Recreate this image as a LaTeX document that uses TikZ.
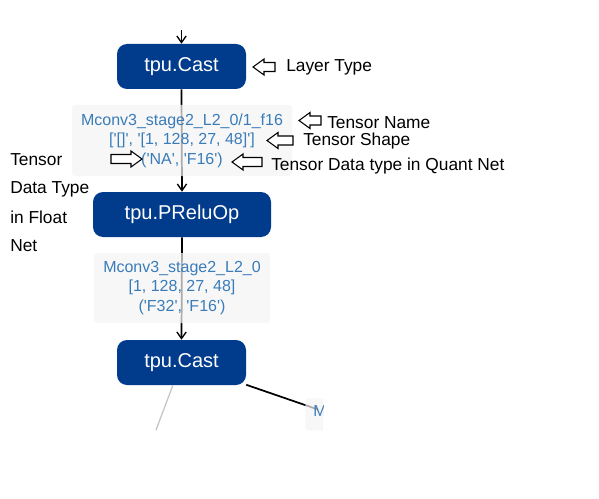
\documentclass[tikz,border=0pt]{standalone}
\usepackage{fontspec}
\setmainfont{Liberation Sans}
\usetikzlibrary{arrows.meta}
\definecolor{boxblue}{RGB}{0,59,140}
\definecolor{lbltext}{RGB}{58,124,184}
\definecolor{lblbg}{RGB}{244,244,245}
\newcommand\qq{\textquotesingle}
\tikzset{
  opbox/.style={fill=boxblue, text=white, rounded corners=7.5pt, minimum height=33.75pt, font=\fontsize{15}{18}\selectfont, inner sep=0pt},
  lbl/.style={fill=lblbg, fill opacity=0.7, text opacity=1, text=lbltext, rounded corners=2pt, align=center, font=\fontsize{12}{14.6}\selectfont, inner sep=0pt},
  conn/.style={draw=black, line width=1.3pt, -{Straight Barb[length=5pt,width=7pt,line width=1pt]}},
  plain/.style={draw=black, line width=1.3pt},
  faint/.style={draw=black!22, line width=1pt},
  note/.style={anchor=west, font=\fontsize{13}{15}\selectfont, inner sep=0pt},
  hollow/.style={draw=black, fill=white, line width=0.8pt, line join=miter},
  pics/harrow/.style={code={\draw[hollow] (0,0) -- (11,-8) -- (11,-4.5) -- (#1,-4.5) -- (#1,4.5) -- (11,4.5) -- (11,8) -- cycle;}}
}
\begin{document}
\begin{tikzpicture}[x=0.75pt, y=-0.75pt]
\useasboundingbox (0,0) rectangle (599,499);
% operator boxes
\node[opbox, minimum width=96.75pt] (b1) at (181.5,66.5) {tpu.Cast};
\node[opbox, minimum width=133.5pt] (b2) at (182,214.5) {tpu.PReluOp};
\node[opbox, minimum width=96.75pt] (b3) at (181.5,362.5) {tpu.Cast};
\coordinate (top) at (181.5,30);
% connectors
\draw[conn] (top) -- (b1.north);
\draw[conn] (b1.south) -- (b2.north);
\draw[conn] (b2.south) -- (b3.north);
\begin{scope}
\clip (0,0) rectangle (323,430);
\coordinate (g) at (156,430);
\coordinate (mend) at (318,409.5);
\draw[faint] (b3) -- (g);
\draw[plain] (b3) -- (mend);
\node[lbl, anchor=north west, minimum width=60pt, minimum height=24pt] (m) at (305,398) {};
\node[lbl, fill=none, anchor=west] (mt) at (313,413) {Mconv3\_stage2};
\end{scope}
% tensor labels
\node[lbl, minimum width=165pt, minimum height=53.25pt] (l1) at (182,140.5)
  {Mconv3\_stage2\_L2\_0/1\_f16\\{}{[}\qq{[}]\qq, \qq{[}1, 128, 27, 48]\qq]\\{}(\qq NA\qq, \qq F16\qq)};
\node[lbl, minimum width=132pt, minimum height=52.5pt] (l2) at (182,288)
  {Mconv3\_stage2\_L2\_0\\{}{[}1, 128, 27, 48]\\{}(\qq F32\qq, \qq F16\qq)};
% annotations
\pic at (253,67) {harrow=22};
\node[note] (n1) at (286,67) {Layer Type};
\pic at (299,120.5) {harrow=22};
\node[note] (n2) at (327,122.5) {Tensor Name};
\pic at (267,140.5) {harrow=26};
\node[note] (n3) at (303,141) {Tensor Shape};
\pic at (232,162) {harrow=30};
\node[note] (n4) at (271,166.5) {Tensor Data type in Quant Net};
\pic[xscale=-1] at (142,159) {harrow=31};
\node[note] (n5) at (10,160) {Tensor};
\node[note] (n6) at (10,189) {Data Type};
\node[note] (n7) at (10,217) {in Float};
\node[note] (n8) at (10,246) {Net};
\end{tikzpicture}
\end{document}
